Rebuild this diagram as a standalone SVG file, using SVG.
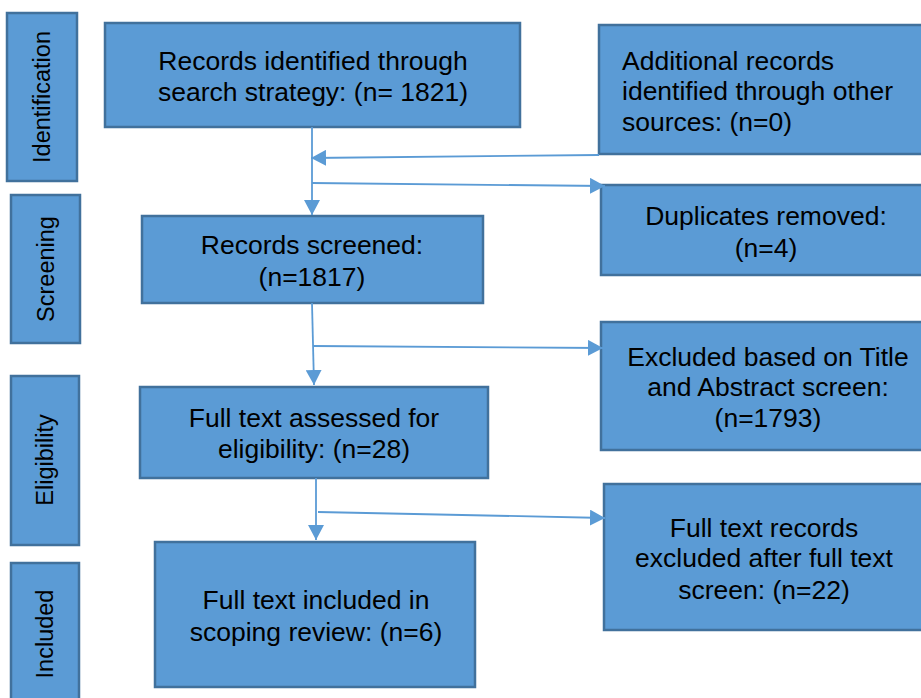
<svg xmlns="http://www.w3.org/2000/svg" width="921" height="698" viewBox="0 0 921 698">
<defs>
<style>
.box{fill:#5B9BD5;stroke:#41719C;stroke-width:2.5}
.t{font-family:"Liberation Sans",Arial,sans-serif;font-size:26.5px;fill:#000}
.c{text-anchor:middle}
.s{font-family:"Liberation Sans",Arial,sans-serif;font-size:23.5px;fill:#000;text-anchor:middle}
.ln{stroke:#5B9BD5;stroke-width:1.8;fill:none;marker-end:url(#ah)}
</style>
<marker id="ah" viewBox="0 0 15 16" refX="15" refY="8" markerWidth="15" markerHeight="16" markerUnits="userSpaceOnUse" orient="auto"><path d="M0,0 L15,8 L0,16 z" fill="#5B9BD5"/></marker>
</defs>
<rect width="921" height="698" fill="#fff"/>
<g id="stage-identification"><rect class="box" x="7" y="13" width="70" height="168"/><text class="s" transform="translate(50,97) rotate(-90)">Identification</text></g>
<g id="stage-screening"><rect class="box" x="11" y="195" width="69" height="148"/><text class="s" transform="translate(54,269) rotate(-90)">Screening</text></g>
<g id="stage-eligibility"><rect class="box" x="11" y="376" width="68" height="169"/><text class="s" transform="translate(53,460) rotate(-90)">Eligibility</text></g>
<g id="stage-included"><rect class="box" x="11" y="563" width="68" height="140"/><text class="s" transform="translate(53,634) rotate(-90)">Included</text></g>
<g id="identified"><rect class="box" x="105" y="23" width="415" height="104"/><text class="t c" x="313" y="70">Records identified through</text><text class="t c" x="313" y="101">search strategy: (n= 1821)</text></g>
<g id="additional"><rect class="box" x="599" y="25" width="330" height="129"/><text class="t" x="622" y="70">Additional records</text><text class="t" x="622" y="100">identified through other</text><text class="t" x="622" y="131">sources: (n=0)</text></g>
<g id="duplicates"><rect class="box" x="601" y="185" width="330" height="90"/><text class="t c" x="766" y="225">Duplicates removed:</text><text class="t c" x="766" y="257">(n=4)</text></g>
<g id="screened"><rect class="box" x="142" y="216" width="341" height="87"/><text class="t c" x="312" y="254">Records screened:</text><text class="t c" x="312" y="286">(n=1817)</text></g>
<g id="excluded-title"><rect class="box" x="601" y="322" width="330" height="128"/><text class="t c" x="768" y="366">Excluded based on Title</text><text class="t c" x="768" y="396">and Abstract screen:</text><text class="t c" x="768" y="427">(n=1793)</text></g>
<g id="fulltext"><rect class="box" x="140" y="387" width="348" height="91"/><text class="t c" x="314" y="427">Full text assessed for</text><text class="t c" x="314" y="458">eligibility: (n=28)</text></g>
<g id="excluded-full"><rect class="box" x="604" y="484" width="327" height="146"/><text class="t c" x="764" y="537">Full text records</text><text class="t c" x="764" y="567">excluded after full text</text><text class="t c" x="764" y="599">screen: (n=22)</text></g>
<g id="included"><rect class="box" x="155" y="542" width="320" height="145"/><text class="t c" x="316" y="609">Full text included in</text><text class="t c" x="316" y="641">scoping review: (n=6)</text></g>
<g id="connectors">
<path class="ln" d="M312,127 L312,215"/>
<path class="ln" d="M599,155 L311,158"/>
<path class="ln" d="M312,183 L605,186"/>
<path class="ln" d="M312,303 L314,385"/>
<path class="ln" d="M313,346 L603,348"/>
<path class="ln" d="M316,478 L316,540"/>
<path class="ln" d="M318,512 L605,518"/>
</g>
</svg>
